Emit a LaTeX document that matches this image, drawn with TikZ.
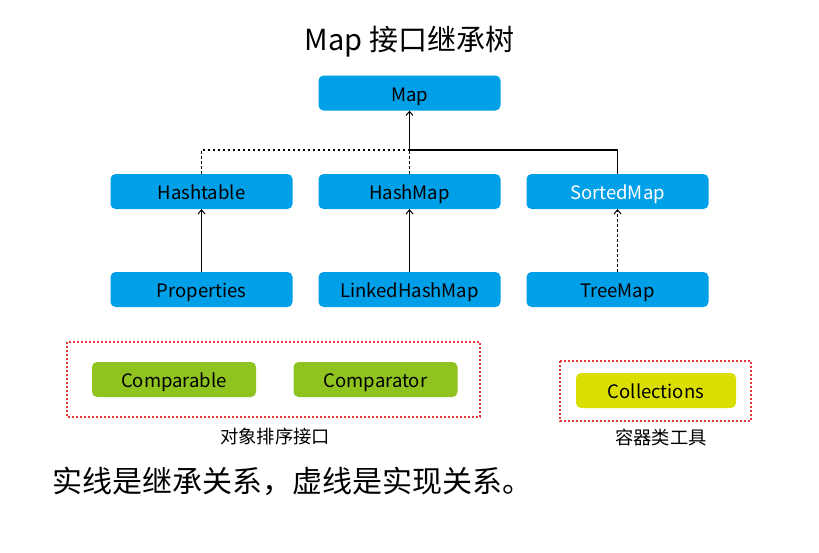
\documentclass[tikz,border=0pt]{standalone}
\usepackage{fontspec}
\setmainfont{Noto Sans CJK SC}
\usetikzlibrary{arrows.meta}
\definecolor{boxblue}{HTML}{00A0E9}
\definecolor{boxgreen}{HTML}{8FC31F}
\definecolor{boxyellow}{HTML}{DADF00}
\definecolor{dashred}{HTML}{E8343B}
\tikzset{
  basebox/.style={draw=none, rounded corners=5pt, minimum height=35pt, inner sep=0pt, text height=18pt, text depth=2pt, font=\fontsize{18.5}{22}\selectfont},
  cls/.style={basebox, fill=boxblue, minimum width=182pt},
  grn/.style={basebox, fill=boxgreen, minimum width=164pt},
  ylw/.style={basebox, fill=boxyellow, minimum width=160pt},
  solidln/.style={draw=black, line width=1.3pt},
  dotln/.style={draw=black, line width=1.4pt, dash pattern=on 2.5pt off 2.5pt},
  arr/.style={-{Straight Barb[length=4pt,width=7pt,line width=1pt]}},
  redbox/.style={draw=dashred, line width=1.3pt, dash pattern=on 2pt off 2pt},
  lbl/.style={font=\fontsize{18.3}{22}\selectfont, inner sep=0pt},
}
\begin{document}
\begin{tikzpicture}[x=1pt,y=-1pt]
\useasboundingbox (0,0) rectangle (819,552);
\node[inner sep=0pt, font=\fontsize{29}{34}\selectfont] (title) at (409.5,42) {Map 接口继承树};
\node[cls] (map) at (409.5,93) {Map};
\node[cls] (ht) at (201.5,191.5) {Hashtable};
\node[cls] (hm) at (409.5,191.5) {HashMap};
\node[cls, text=white] (sm) at (617.5,191.5) {SortedMap};
\node[cls] (pr) at (201.5,289.5) {Properties};
\node[cls] (lhm) at (409.5,289.5) {LinkedHashMap};
\node[cls] (tm) at (617.5,289.5) {TreeMap};
\coordinate (j) at (409.5,150);
\draw[dotln] (ht.north) |- (j);
\draw[dotln] (hm.north) -- (j);
\draw[solidln] (sm.north) |- (j);
\draw[solidln, arr] (j) -- (map.south);
\draw[solidln, arr] (pr.north) -- (ht.south);
\draw[solidln, arr] (lhm.north) -- (hm.south);
\draw[dotln, arr] (tm.north) -- (sm.south);
\draw[redbox] (67,342) rectangle (480,417);
\node[grn] (cmp) at (174,379.5) {Comparable};
\node[grn] (cmt) at (375.5,379.5) {Comparator};
\node[lbl] (l1) at (275,437) {对象排序接口};
\draw[redbox] (560,361) rectangle (751,421);
\node[ylw] (col) at (656,390.5) {Collections};
\node[lbl] (l2) at (661,437) {容器类工具};
\node[inner sep=0pt, anchor=west, font=\fontsize{30}{34}\selectfont] (note) at (52,481) {实线是继承关系，虚线是实现关系。};
\end{tikzpicture}
\end{document}
